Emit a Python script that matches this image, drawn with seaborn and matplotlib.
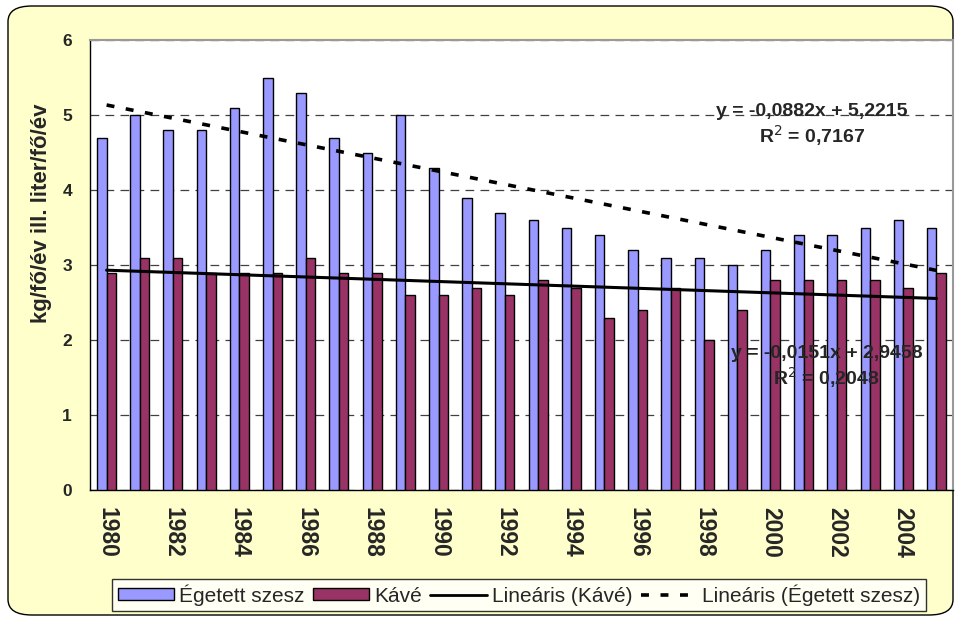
import numpy as np
import pandas as pd
import matplotlib
matplotlib.use("Agg")
import matplotlib.pyplot as plt
import seaborn as sns
from matplotlib.patches import FancyBboxPatch, Patch
from matplotlib.lines import Line2D

years = list(range(1980, 2006))
szesz = [4.7, 5.0, 4.8, 4.8, 5.1, 5.5, 5.3, 4.7, 4.5, 5.0, 4.3, 3.9, 3.7,
         3.6, 3.5, 3.4, 3.2, 3.1, 3.1, 3.0, 3.2, 3.4, 3.4, 3.5, 3.6, 3.5]
kave = [2.9, 3.1, 3.1, 2.9, 2.9, 2.9, 3.1, 2.9, 2.9, 2.6, 2.6, 2.7, 2.6,
        2.8, 2.7, 2.3, 2.4, 2.7, 2.0, 2.4, 2.8, 2.8, 2.8, 2.8, 2.7, 2.9]
series_names = ["Égetett szesz", "Kávé"]
colors = ["#9999FF", "#993366"]

df = pd.DataFrame({
    "year": [str(y) for y in years] * 2,
    "value": szesz + kave,
    "series": [series_names[0]] * len(years) + [series_names[1]] * len(years),
})

sns.set_style("white")
plt.rcParams["font.family"] = ["Liberation Sans", "DejaVu Sans"]

fig = plt.figure(figsize=(9.61, 6.21), dpi=100)
fig.patch.set_facecolor("white")
bg = FancyBboxPatch((8 / 961, 6 / 621), 945 / 961, 609 / 621,
                    boxstyle="round,pad=0,rounding_size=0.025",
                    transform=fig.transFigure, facecolor="#FFFFCC",
                    edgecolor="black", linewidth=1.0, zorder=-10)
fig.patches.append(bg)

ax = fig.add_axes([90 / 961, 1 - 490 / 621, 863 / 961, 450 / 621])
sns.barplot(data=df, x="year", y="value", hue="series", palette=colors,
            width=2 / 3.5, gap=0, edgecolor="black", linewidth=1.0,
            saturation=1, ax=ax, legend=False, zorder=3)

# linear trend lines (Excel style, x = 1..n)
xi = np.arange(1, len(years) + 1)
pos = np.arange(len(years))
m_s, b_s = np.polyfit(xi, szesz, 1)
m_k, b_k = np.polyfit(xi, kave, 1)
ax.plot(pos, m_k * xi + b_k, color="black", lw=2.2, zorder=5)
ax.plot(pos, m_s * xi + b_s, color="black", lw=2.6,
        linestyle=(0, (2.2, 3.2)), zorder=5)

ax.text(21.25, 4.86, "y = -0,0882x + 5,2215\nR$^2$ = 0,7167", ha="center",
        va="center", fontsize=14, fontweight="bold", linespacing=1.15,
        zorder=6)
ax.text(21.7, 1.63, "y = -0,0151x + 2,9458\nR$^2$ = 0,2048", ha="center",
        va="center", fontsize=14, fontweight="bold", linespacing=1.15,
        zorder=6)

ax.set_xlim(-0.5, len(years) - 0.5)
ax.set_ylim(0, 6)
ax.set_yticks(range(0, 7))
ax.set_yticklabels([str(v) for v in range(0, 7)], fontsize=12.5,
                   fontweight="bold")
ax.yaxis.grid(True, color="#404040", linestyle=(0, (7, 5)), linewidth=0.9)
ax.set_axisbelow(True)

ax.set_xticks(pos)
ax.set_xticklabels([str(y) if y % 2 == 0 else "" for y in years],
                   rotation=270, fontsize=16.5, fontweight="bold")
ax.tick_params(axis="x", length=0, pad=12)
ax.set_xticks(np.arange(-0.5, len(years), 1), minor=True)
ax.tick_params(axis="x", which="minor", length=6, width=1, color="black",
               direction="out")
ax.tick_params(axis="y", length=8, width=1, color="black", direction="out",
               pad=5)

ax.set_xlabel("")
ax.set_ylabel("kg/fő/év ill. liter/fő/év", fontsize=16, fontweight="bold")
ax.yaxis.set_label_coords(-0.044, 0.615)

for side in ["top", "right"]:
    ax.spines[side].set_color("#999999")
    ax.spines[side].set_linewidth(1.5)
for side in ["left", "bottom"]:
    ax.spines[side].set_color("black")
    ax.spines[side].set_linewidth(1.0)

handles = [
    Patch(facecolor=colors[0], edgecolor="black", label=series_names[0]),
    Patch(facecolor=colors[1], edgecolor="black", label=series_names[1]),
    Line2D([0], [0], color="black", lw=2, label="Lineáris (Kávé)"),
    Line2D([0], [0], color="black", lw=2.6, linestyle=(0, (2.2, 3.2)),
           label="Lineáris (Égetett szesz)"),
]
leg = fig.legend(handles=handles, loc="center", ncol=4,
                 bbox_to_anchor=(519 / 961, 1 - 595 / 621), fontsize=15,
                 frameon=True, fancybox=False, edgecolor="black",
                 handlelength=2.7, handleheight=0.5, handletextpad=0.25,
                 columnspacing=0.4, borderpad=0.25, borderaxespad=0)
leg.get_frame().set_linewidth(1.0)

fig.savefig("out.png", dpi=100, facecolor=fig.get_facecolor())
